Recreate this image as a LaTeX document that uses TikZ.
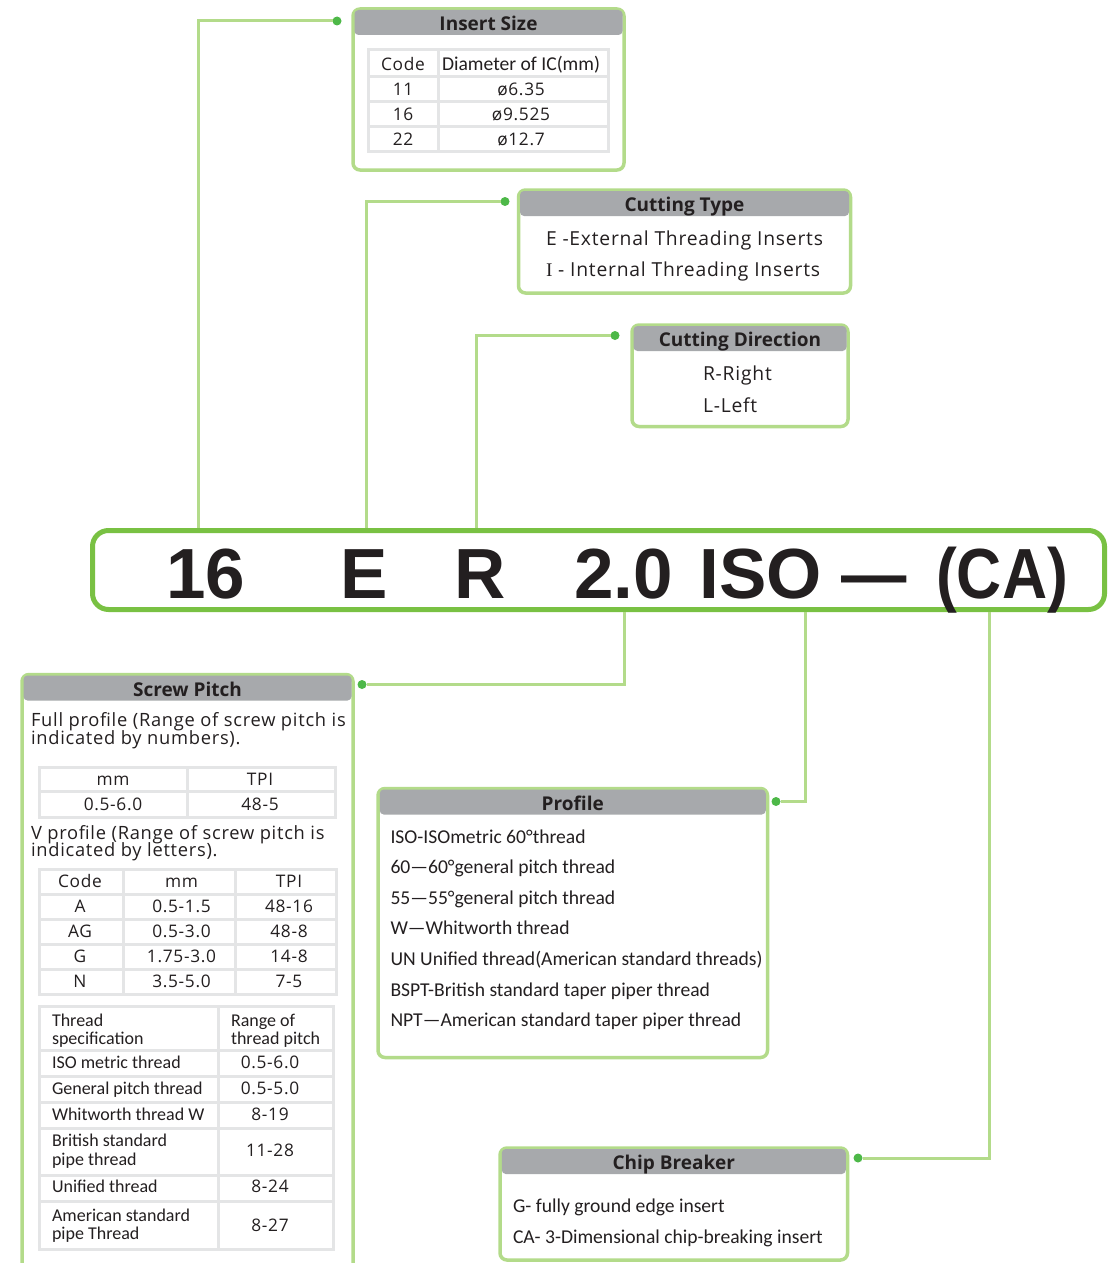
\documentclass[tikz,border=0pt]{standalone}
\usepackage{fontspec}
\setmainfont[LetterSpace=4]{Open Sans}
\newfontfamily\condfont{Carlito}
\newfontfamily\headfont{Open Sans}
\newfontfamily\blackfont{Liberation Sans}
\newfontfamily\seriffont{Liberation Serif}
\usetikzlibrary{positioning}

\definecolor{leadgreen}{HTML}{B3DB8A}
\definecolor{codegreen}{HTML}{79C143}
\definecolor{dotgreen}{HTML}{4DB848}
\definecolor{headgray}{HTML}{A7A9AC}
\definecolor{gridgray}{HTML}{E4E5E6}
\definecolor{ink}{HTML}{231F20}

\begin{document}
\begin{tikzpicture}[x=1pt, y=-1pt,
        every node/.style={text=ink, inner sep=0pt, outer sep=0pt},
        infobox/.style={rectangle, draw=leadgreen, line width=3.5pt, rounded corners=7pt, fill=white},
        headbar/.style={rectangle, fill=headgray, rounded corners=4pt, text height=16pt, text depth=0pt,
            minimum height=25pt, font=\headfont\bfseries\fontsize{19}{22}\selectfont},
        codebox/.style={rectangle, draw=codegreen, line width=5pt, rounded corners=16pt},
        codetxt/.style={anchor=base, font=\blackfont\bfseries\fontsize{71}{80}\selectfont},
        wide/.style={font=\fontsize{19.3}{22}\selectfont},
        para/.style={font=\fontsize{18.3}{20}\selectfont},
        small/.style={font=\fontsize{17.3}{19}\selectfont},
        narrow/.style={font=\condfont\fontsize{19.6}{22}\selectfont},
        tnarrow/.style={font=\condfont\fontsize{18}{20}\selectfont},
        grid/.style={draw=gridgray, line width=3pt},
        lead/.style={draw=leadgreen, line width=3pt},
        dot/.style={circle, fill=dotgreen, minimum size=9pt},
    ]
    \useasboundingbox (0,0) rectangle (1115,1263);
    \clip (0,0) rectangle (1115,1263);

    % insert size
    \node[infobox, minimum width=271pt, minimum height=161pt] (sizebox) at (488.5,89.5) {};
    \node[headbar, minimum width=268pt, below=1pt of sizebox.north] (sizehead) {Insert Size};
    \draw[grid] (368,50) rectangle (608,151) (438,50) -- (438,151);
    \foreach \y in {76,101,126} \draw[grid] (368,\y) -- (608,\y);
    \node[small, anchor=base] (sizecode) at (403,70.5) {Code};
    \node[narrow, anchor=base] (sizedia) at (521,70.5) {Diameter of IC(mm)};
    \foreach \c/\d [count=\i] in {11/ø6.35, 16/ø9.525, 22/ø12.7} {
        \node[small, anchor=base] (sizec\i) at (403,70.5+25*\i) {\c};
        \node[small, anchor=base] (sized\i) at (521,70.5+25*\i) {\d};
    }

    % cutting type
    \node[infobox, minimum width=332pt, minimum height=103pt] (typebox) at (684.5,241.5) {};
    \node[headbar, minimum width=329pt, below=1pt of typebox.north] (typehead) {Cutting Type};
    \node[wide, anchor=base west] (typeE) at (546,245) {E -External Threading Inserts};
    \node[wide, anchor=base west] (typeI) at (546,276.5) {{\seriffont I} - Internal Threading Inserts};

    % cutting direction
    \node[infobox, minimum width=216pt, minimum height=101.5pt] (dirbox) at (740,375.75) {};
    \node[headbar, minimum width=213pt, below=1pt of dirbox.north] (dirhead) {Cutting Direction};
    \node[wide, anchor=base west] (dirR) at (703,380.5) {R-Right};
    \node[wide, anchor=base west] (dirL) at (703,412) {L-Left};

    % designation
    \node[codebox, minimum width=1012pt, minimum height=79pt] (code) at (598.5,570) {};
    \node[codetxt] (c16) at (205.5,598) {16};
    \node[codetxt] (cE) at (364.5,598) {E};
    \node[codetxt] (cR) at (480,598) {R};
    \node[codetxt] (cpitch) at (623.5,598) {2.0};
    \node[codetxt] (cprof) at (760.5,598) {ISO};
    \node[codetxt] (cdash) at (874.5,598) {\scalebox{0.92}[1]{—}};
    \node[codetxt] (cchip) at (1002,598) {\scalebox{0.88}[1]{(CA)}};

    % screw pitch
    \node[infobox, minimum width=331pt, minimum height=620pt] (pitchbox) at (187.5,984.5) {};
    \node[headbar, minimum width=328pt, below=1pt of pitchbox.north] (pitchhead) {Screw Pitch};
    \node[para, anchor=base west] (full1) at (31,726.7) {Full profile (Range of screw pitch is};
    \node[para, anchor=base west] (full2) at (31,744) {indicated by numbers).};
    \draw[grid] (39,767) rectangle (335.5,817) (187,767) -- (187,817) (39,791.5) -- (335.5,791.5);
    \node[small, anchor=base] (fullmm) at (113,785) {mm};
    \node[small, anchor=base] (fulltpi) at (260,785) {TPI};
    \node[small, anchor=base] (fullmmv) at (113,810) {0.5-6.0};
    \node[small, anchor=base] (fulltpiv) at (260,810) {48-5};
    \node[para, anchor=base west] (v1) at (31,839.3) {V profile (Range of screw pitch is};
    \node[para, anchor=base west] (v2) at (31,856.7) {indicated by letters).};
    \draw[grid] (39,869) rectangle (336.5,994) (123.5,869) -- (123.5,994) (235,869) -- (235,994);
    \foreach \y in {894,919,944,969} \draw[grid] (39,\y) -- (336.5,\y);
    \foreach \a/\b/\c [count=\i from 0] in {Code/mm/TPI, A/0.5-1.5/48-16, AG/0.5-3.0/48-8,
            G/1.75-3.0/14-8, N/3.5-5.0/7-5} {
        \node[small, anchor=base] (vcode\i) at (80,887+25*\i) {\a};
        \node[small, anchor=base] (vmm\i) at (181.5,887+25*\i) {\b};
        \node[small, anchor=base] (vtpi\i) at (289,887+25*\i) {\c};
    }
    \draw[grid] (39,1006) rectangle (333,1249.5) (218.5,1006) -- (218.5,1249.5);
    \foreach \y in {1050,1076,1102,1128,1175,1201} \draw[grid] (39,\y) -- (333,\y);
    \foreach \t/\y [count=\i] in {Thread/1026.7, specification/1044, ISO metric thread/1068.3,
            General pitch thread/1094.5, Whitworth thread W/1120, British standard/1146.7,
            pipe thread/1165, Unified thread/1192.5, American standard/1221.7, pipe Thread/1239.3}
        \node[tnarrow, anchor=base west] (spec\i) at (52,\y) {\t};
    \node[tnarrow, anchor=base west] (range1) at (231,1026.7) {Range of};
    \node[tnarrow, anchor=base west] (range2) at (231,1044) {thread pitch};
    \foreach \v/\y [count=\i] in {0.5-6.0/1068.3, 0.5-5.0/1094.5, 8-19/1120, 11-28/1156.7,
            8-24/1192.5, 8-27/1231.7}
        \node[small, anchor=base] (rangev\i) at (270,\y) {\v};

    % profile
    \node[infobox, minimum width=389.5pt, minimum height=269pt] (profbox) at (572.75,923) {};
    \node[headbar, minimum width=386pt, below=1pt of profbox.north] (profhead) {Profile};
    \foreach \t [count=\i from 0] in {{ISO-ISOmetric 60°thread}, {60—60°general pitch thread},
            {55—55°general pitch thread}, {W—Whitworth thread},
            {UN Unified thread(American standard threads)}, {BSPT-British standard taper piper thread},
            {NPT—American standard taper piper thread}}
        \node[narrow, anchor=base west] (prof\i) at (390.5,843.3+30.55*\i) {\t};

    % chip breaker
    \node[infobox, minimum width=347.5pt, minimum height=112pt] (chipbox) at (673.75,1204) {};
    \node[headbar, minimum width=344pt, below=1pt of chipbox.north] (chiphead) {Chip Breaker};
    \node[narrow, anchor=base west] (chipG) at (513,1212.7) {G- fully ground edge insert};
    \node[narrow, anchor=base west] (chipCA) at (513,1243.3) {CA- 3-Dimensional chip-breaking insert};

    % leaders
    \node[dot] (sizedot) at (337,21) {};
    \node[dot] (typedot) at (505,201.5) {};
    \node[dot] (dirdot) at (615,335.5) {};
    \node[dot] (pitchdot) at (362,684.5) {};
    \node[dot] (profdot) at (776,801.5) {};
    \node[dot] (chipdot) at (858,1158) {};
    \coordinate (tapsize) at (198,528);
    \coordinate (taptype) at (366,528);
    \coordinate (tapdir) at (476,528);
    \coordinate (tappitch) at (624,612);
    \coordinate (tapprof) at (805,612);
    \coordinate (tapchip) at (989,612);
    \draw[lead] (tapsize) |- (sizedot);
    \draw[lead] (taptype) |- (typedot);
    \draw[lead] (tapdir) |- (dirdot);
    \draw[lead] (tappitch) |- (pitchdot);
    \draw[lead] (tapprof) |- (profdot);
    \draw[lead] (tapchip) |- (chipdot);
\end{tikzpicture}
\end{document}
